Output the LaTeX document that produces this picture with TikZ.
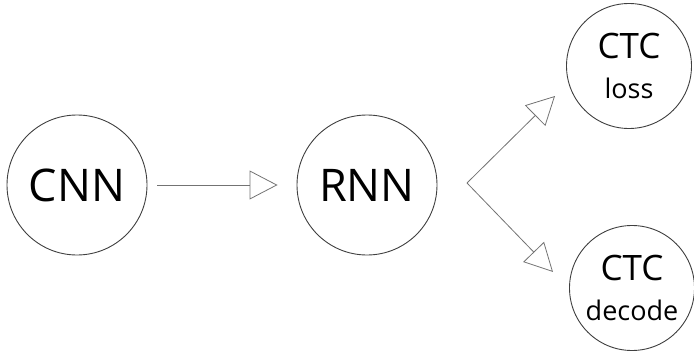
\documentclass[tikz,border=0pt]{standalone}
\usepackage{fontspec}
\setmainfont{Open Sans}
\usetikzlibrary{arrows.meta,positioning}

\tikzset{
  stage/.style={circle, draw=black!75, line width=0.9pt, inner sep=0pt,
    minimum size=140pt, font=\fontsize{45}{48}\selectfont},
  ctc/.style={circle, draw=black!75, line width=0.9pt, inner sep=0pt,
    minimum size=125pt, align=center, font=\fontsize{35}{38}\selectfont},
  flow/.style={draw=black!55, line width=0.8pt,
    -{Triangle[open, length=28pt, width=29pt]}},
}

\begin{document}
\begin{tikzpicture}[x=1pt, y=-1pt]
    \useasboundingbox (0,0) rectangle (694,356);

    % network stages
    \node[stage] (cnn) at (77,185) {CNN};
    \node[stage] (rnn) at (367,185) {RNN};
    \node[ctc] (loss) at (629,66) {CTC\\[2pt]{\fontsize{27}{29}\selectfont loss}};
    \node[ctc] (decode) at (632,288) {CTC\\[2pt]{\fontsize{27}{29}\selectfont decode}};

    % CNN feeds RNN
    \draw[flow, shorten <=10pt, shorten >=19pt] (cnn) -- (rnn);

    % RNN output splits in two
    \coordinate (fork) at (467,183);
    \coordinate (lossin) at (555,96);
    \coordinate (decodein) at (553,272);
    \draw[flow] (fork) -- (lossin);
    \draw[flow] (fork) -- (decodein);
\end{tikzpicture}
\end{document}
